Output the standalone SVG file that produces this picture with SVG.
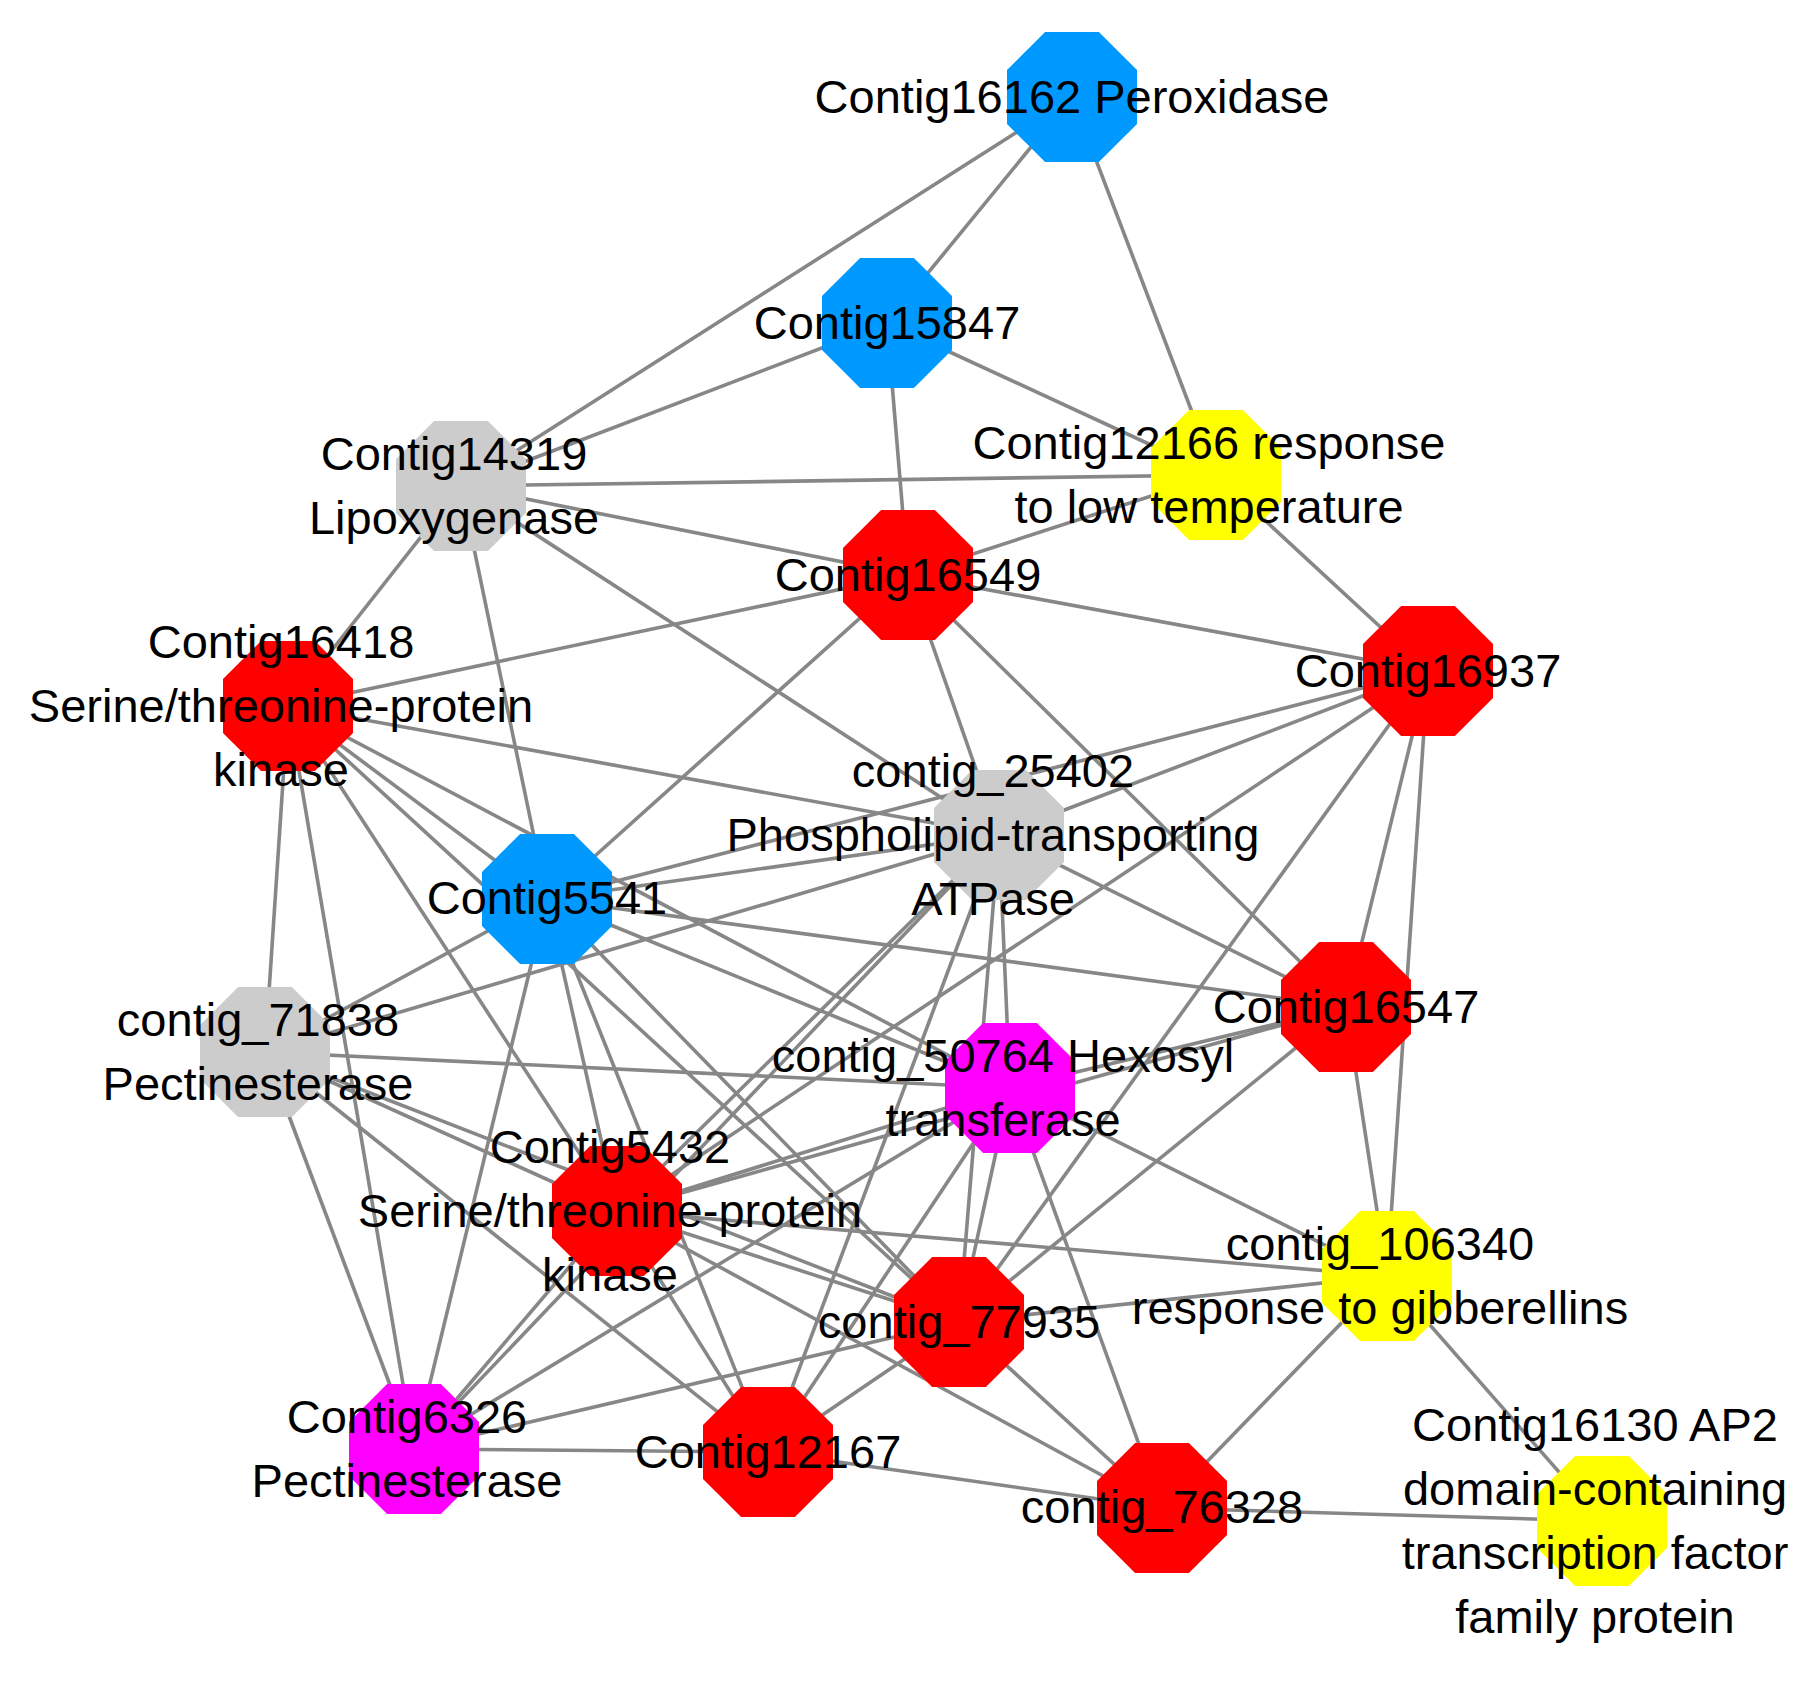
<svg xmlns="http://www.w3.org/2000/svg" xmlns:xlink="http://www.w3.org/1999/xlink" width="1817" height="1686" viewBox="0 0 1817 1686">
<style>
.e{stroke:#878787;stroke-width:3.6;fill:none}
.lbl{font-family:"Liberation Sans",Arial,Helvetica,sans-serif;font-size:47px;fill:#000;text-anchor:middle}
.red{fill:#FF0000}.blue{fill:#0099FF}.gray{fill:#CCCCCC}.yel{fill:#FFFF00}.mag{fill:#FF00FF}
</style>
<defs>
<polygon id="oct" points="-26.9,-65 26.9,-65 65,-26.9 65,26.9 26.9,65 -26.9,65 -65,26.9 -65,-26.9"/>
</defs>
<rect width="1817" height="1686" fill="#fff"/>
<g id="edges">
<line class="e" x1="1072" y1="97" x2="887" y2="323"/>
<line class="e" x1="1072" y1="97" x2="461" y2="486"/>
<line class="e" x1="1072" y1="97" x2="1216" y2="475"/>
<line class="e" x1="887" y1="323" x2="461" y2="486"/>
<line class="e" x1="887" y1="323" x2="1216" y2="475"/>
<line class="e" x1="887" y1="323" x2="908" y2="575"/>
<line class="e" x1="461" y1="486" x2="1216" y2="475"/>
<line class="e" x1="461" y1="486" x2="908" y2="575"/>
<line class="e" x1="461" y1="486" x2="288" y2="706"/>
<line class="e" x1="461" y1="486" x2="999" y2="835"/>
<line class="e" x1="461" y1="486" x2="547" y2="899"/>
<line class="e" x1="1216" y1="475" x2="908" y2="575"/>
<line class="e" x1="1216" y1="475" x2="1428" y2="671"/>
<line class="e" x1="908" y1="575" x2="288" y2="706"/>
<line class="e" x1="908" y1="575" x2="1428" y2="671"/>
<line class="e" x1="908" y1="575" x2="999" y2="835"/>
<line class="e" x1="908" y1="575" x2="547" y2="899"/>
<line class="e" x1="908" y1="575" x2="1346" y2="1007"/>
<line class="e" x1="288" y1="706" x2="999" y2="835"/>
<line class="e" x1="288" y1="706" x2="547" y2="899"/>
<line class="e" x1="288" y1="706" x2="265" y2="1052"/>
<line class="e" x1="288" y1="706" x2="1010" y2="1088"/>
<line class="e" x1="288" y1="706" x2="617" y2="1211"/>
<line class="e" x1="288" y1="706" x2="959" y2="1322"/>
<line class="e" x1="288" y1="706" x2="414" y2="1449"/>
<line class="e" x1="1428" y1="671" x2="999" y2="835"/>
<line class="e" x1="1428" y1="671" x2="547" y2="899"/>
<line class="e" x1="1428" y1="671" x2="1346" y2="1007"/>
<line class="e" x1="1428" y1="671" x2="617" y2="1211"/>
<line class="e" x1="1428" y1="671" x2="1387" y2="1276"/>
<line class="e" x1="1428" y1="671" x2="959" y2="1322"/>
<line class="e" x1="999" y1="835" x2="547" y2="899"/>
<line class="e" x1="999" y1="835" x2="1346" y2="1007"/>
<line class="e" x1="999" y1="835" x2="265" y2="1052"/>
<line class="e" x1="999" y1="835" x2="1010" y2="1088"/>
<line class="e" x1="999" y1="835" x2="617" y2="1211"/>
<line class="e" x1="999" y1="835" x2="959" y2="1322"/>
<line class="e" x1="999" y1="835" x2="414" y2="1449"/>
<line class="e" x1="999" y1="835" x2="768" y2="1452"/>
<line class="e" x1="547" y1="899" x2="1346" y2="1007"/>
<line class="e" x1="547" y1="899" x2="265" y2="1052"/>
<line class="e" x1="547" y1="899" x2="1010" y2="1088"/>
<line class="e" x1="547" y1="899" x2="617" y2="1211"/>
<line class="e" x1="547" y1="899" x2="959" y2="1322"/>
<line class="e" x1="547" y1="899" x2="414" y2="1449"/>
<line class="e" x1="547" y1="899" x2="768" y2="1452"/>
<line class="e" x1="1346" y1="1007" x2="1010" y2="1088"/>
<line class="e" x1="1346" y1="1007" x2="617" y2="1211"/>
<line class="e" x1="1346" y1="1007" x2="1387" y2="1276"/>
<line class="e" x1="1346" y1="1007" x2="959" y2="1322"/>
<line class="e" x1="265" y1="1052" x2="1010" y2="1088"/>
<line class="e" x1="265" y1="1052" x2="617" y2="1211"/>
<line class="e" x1="265" y1="1052" x2="959" y2="1322"/>
<line class="e" x1="265" y1="1052" x2="414" y2="1449"/>
<line class="e" x1="265" y1="1052" x2="768" y2="1452"/>
<line class="e" x1="1010" y1="1088" x2="617" y2="1211"/>
<line class="e" x1="1010" y1="1088" x2="1387" y2="1276"/>
<line class="e" x1="1010" y1="1088" x2="959" y2="1322"/>
<line class="e" x1="1010" y1="1088" x2="414" y2="1449"/>
<line class="e" x1="1010" y1="1088" x2="768" y2="1452"/>
<line class="e" x1="1010" y1="1088" x2="1162" y2="1508"/>
<line class="e" x1="617" y1="1211" x2="1387" y2="1276"/>
<line class="e" x1="617" y1="1211" x2="959" y2="1322"/>
<line class="e" x1="617" y1="1211" x2="414" y2="1449"/>
<line class="e" x1="617" y1="1211" x2="768" y2="1452"/>
<line class="e" x1="617" y1="1211" x2="1162" y2="1508"/>
<line class="e" x1="1387" y1="1276" x2="959" y2="1322"/>
<line class="e" x1="1387" y1="1276" x2="1162" y2="1508"/>
<line class="e" x1="1387" y1="1276" x2="1602" y2="1521"/>
<line class="e" x1="959" y1="1322" x2="414" y2="1449"/>
<line class="e" x1="959" y1="1322" x2="768" y2="1452"/>
<line class="e" x1="959" y1="1322" x2="1162" y2="1508"/>
<line class="e" x1="414" y1="1449" x2="768" y2="1452"/>
<line class="e" x1="768" y1="1452" x2="1162" y2="1508"/>
<line class="e" x1="1162" y1="1508" x2="1602" y2="1521"/>
</g>
<g id="n_Contig16162"><use xlink:href="#oct" x="1072" y="97" class="blue"/><text class="lbl" x="1072" y="113">Contig16162 Peroxidase</text></g>
<g id="n_Contig15847"><use xlink:href="#oct" x="887" y="323" class="blue"/><text class="lbl" x="887" y="339">Contig15847</text></g>
<g id="n_Contig14319"><use xlink:href="#oct" x="461" y="486" class="gray"/><text class="lbl"><tspan x="454" y="470">Contig14319</tspan><tspan x="454" y="534">Lipoxygenase</tspan></text></g>
<g id="n_Contig12166"><use xlink:href="#oct" x="1216" y="475" class="yel"/><text class="lbl"><tspan x="1209" y="459">Contig12166 response</tspan><tspan x="1209" y="523">to low temperature</tspan></text></g>
<g id="n_Contig16549"><use xlink:href="#oct" x="908" y="575" class="red"/><text class="lbl" x="908" y="591">Contig16549</text></g>
<g id="n_Contig16418"><use xlink:href="#oct" x="288" y="706" class="red"/><text class="lbl"><tspan x="281" y="658">Contig16418</tspan><tspan x="281" y="722">Serine/threonine-protein</tspan><tspan x="281" y="786">kinase</tspan></text></g>
<g id="n_Contig16937"><use xlink:href="#oct" x="1428" y="671" class="red"/><text class="lbl" x="1428" y="687">Contig16937</text></g>
<g id="n_contig_25402"><use xlink:href="#oct" x="999" y="835" class="gray"/><text class="lbl"><tspan x="993" y="787">contig_25402</tspan><tspan x="993" y="851">Phospholipid-transporting</tspan><tspan x="993" y="915">ATPase</tspan></text></g>
<g id="n_Contig5541"><use xlink:href="#oct" x="547" y="899" class="blue"/><text class="lbl" x="547" y="914">Contig5541</text></g>
<g id="n_Contig16547"><use xlink:href="#oct" x="1346" y="1007" class="red"/><text class="lbl" x="1346" y="1023">Contig16547</text></g>
<g id="n_contig_71838"><use xlink:href="#oct" x="265" y="1052" class="gray"/><text class="lbl"><tspan x="258" y="1036">contig_71838</tspan><tspan x="258" y="1100">Pectinesterase</tspan></text></g>
<g id="n_contig_50764"><use xlink:href="#oct" x="1010" y="1088" class="mag"/><text class="lbl"><tspan x="1003" y="1072">contig_50764 Hexosyl</tspan><tspan x="1003" y="1136">transferase</tspan></text></g>
<g id="n_Contig5432"><use xlink:href="#oct" x="617" y="1211" class="red"/><text class="lbl"><tspan x="610" y="1163">Contig5432</tspan><tspan x="610" y="1227">Serine/threonine-protein</tspan><tspan x="610" y="1291">kinase</tspan></text></g>
<g id="n_contig_106340"><use xlink:href="#oct" x="1387" y="1276" class="yel"/><text class="lbl"><tspan x="1380" y="1260">contig_106340</tspan><tspan x="1380" y="1324">response to gibberellins</tspan></text></g>
<g id="n_contig_77935"><use xlink:href="#oct" x="959" y="1322" class="red"/><text class="lbl" x="959" y="1338">contig_77935</text></g>
<g id="n_Contig6326"><use xlink:href="#oct" x="414" y="1449" class="mag"/><text class="lbl"><tspan x="407" y="1433">Contig6326</tspan><tspan x="407" y="1497">Pectinesterase</tspan></text></g>
<g id="n_Contig12167"><use xlink:href="#oct" x="768" y="1452" class="red"/><text class="lbl" x="768" y="1468">Contig12167</text></g>
<g id="n_contig_76328"><use xlink:href="#oct" x="1162" y="1508" class="red"/><text class="lbl" x="1162" y="1523">contig_76328</text></g>
<g id="n_Contig16130"><use xlink:href="#oct" x="1602" y="1521" class="yel"/><text class="lbl"><tspan x="1595" y="1441">Contig16130 AP2</tspan><tspan x="1595" y="1505">domain-containing</tspan><tspan x="1595" y="1569">transcription factor</tspan><tspan x="1595" y="1633">family protein</tspan></text></g>
</svg>
